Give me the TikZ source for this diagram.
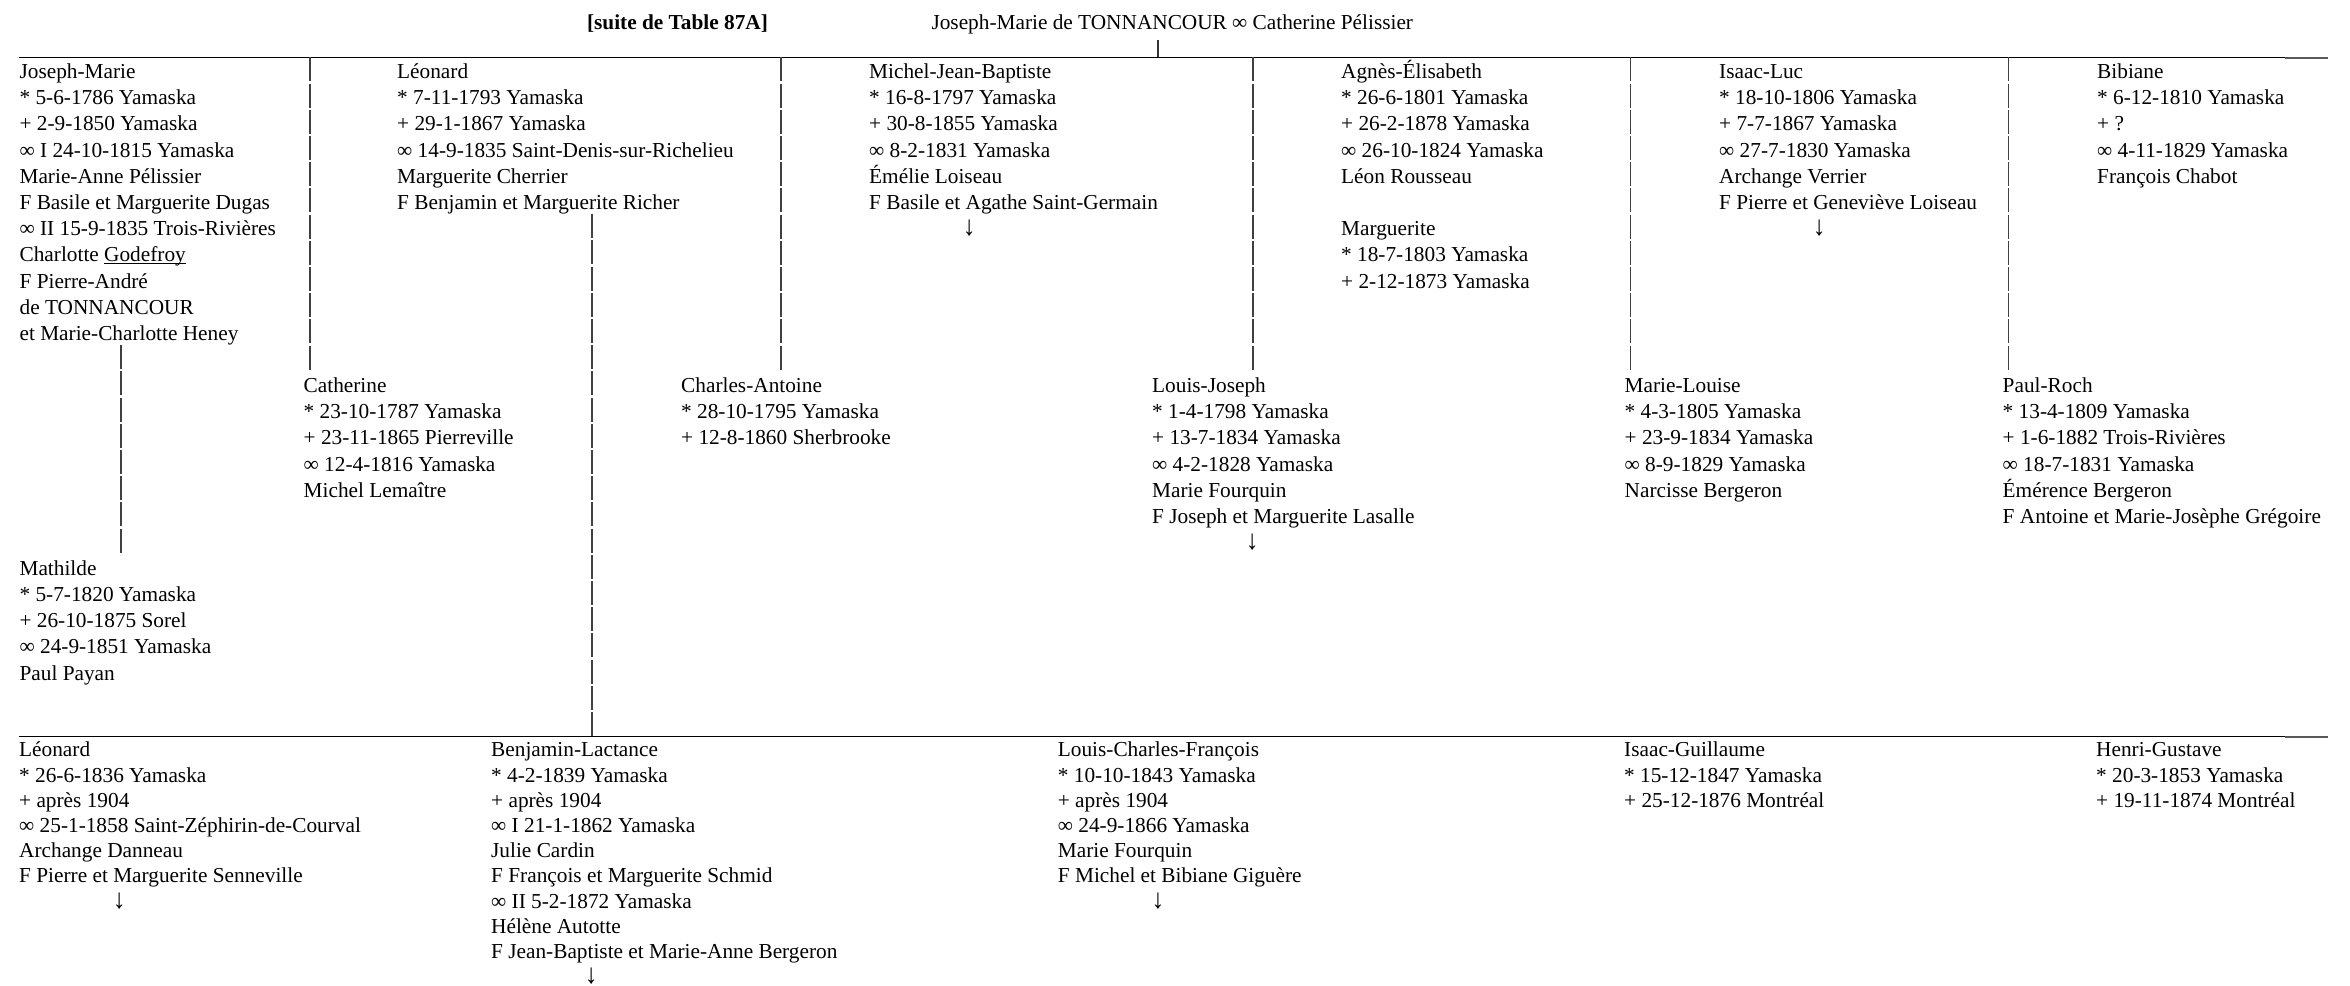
\documentclass[tikz,border=0pt]{standalone}
\usepackage{fontspec}
\setmainfont{Liberation Serif}

\newcommand{\downmark}{\hspace*{100pt}\makebox[0pt]{\scalebox{1.2}[1.3]{↓}}}
\newcommand{\lowline}[1]{\setbox0\hbox{#1}\rlap{\rule[-2.4pt]{\wd0}{1.1pt}}\box0}

\tikzset{
	person/.style={anchor=north west, inner sep=0pt, align=left, font=\fontsize{21.3}{26.2}\selectfont},
	laterperson/.style={person, font=\fontsize{21.3}{25.2}\selectfont},
	descent/.style={line width=1.6pt, black!75, dash pattern=on 24pt off 2.2pt},
	bar/.style={line width=1.3pt},
	barstub/.style={line width=1.8pt, black!65},
}

\begin{document}
\begin{tikzpicture}[x=1pt, y=-1pt]
	\useasboundingbox (0,0) rectangle (2350,985);
	
	% Header: previous table and the parents
	\node[anchor=base, font=\fontsize{21.3}{26.2}\selectfont\bfseries] (suite) at (677.5,29) {[suite de Table 87A]};
	\node[anchor=base west, font=\fontsize{21.3}{26.2}\selectfont] (parents) at (928,29) {Joseph-Marie de TONNANCOUR ∞ Catherine Pélissier};
	
	% The two bars
	\coordinate (topbar) at (0,57.3);
	\coordinate (lowbar) at (0,736.3);
	\draw[bar] (19,57.3) -- (2285,57.3);
	\draw[barstub] (2285,57.8) -- (2328,57.8);
	\draw[bar] (19,736.3) -- (2285,736.3);
	\draw[barstub] (2285,737.2) -- (2328,737.2);
	\coordinate (parentfoot) at (1158,40);
	\draw[line width=1.4pt, black!80] (parentfoot) -- (parentfoot |- topbar);
	
	% First row of children
	\node[person] (jm) at (19.4,60) {\strut Joseph-Marie\\
		* 5-6-1786 Yamaska\\
		+ 2-9-1850 Yamaska\\
		∞ I 24-10-1815 Yamaska\\
		Marie-Anne Pélissier\\
		F Basile et Marguerite Dugas\\
		∞ II 15-9-1835 Trois-Rivières\\
		Charlotte \lowline{Godefroy}\\
		F Pierre-André\\
		de TONNANCOUR\\
		et Marie-Charlotte Heney};
	\node[person] (leo) at (397,60) {\strut Léonard\\
		* 7-11-1793 Yamaska\\
		+ 29-1-1867 Yamaska\\
		∞ 14-9-1835 Saint-Denis-sur-Richelieu\\
		Marguerite Cherrier\\
		F Benjamin et Marguerite Richer};
	\node[person] (mjb) at (869,60) {\strut Michel-Jean-Baptiste\\
		* 16-8-1797 Yamaska\\
		+ 30-8-1855 Yamaska\\
		∞ 8-2-1831 Yamaska\\
		Émélie Loiseau\\
		F Basile et Agathe Saint-Germain\\
		\downmark};
	\node[person] (agnes) at (1341,60) {\strut Agnès-Élisabeth\\
		* 26-6-1801 Yamaska\\
		+ 26-2-1878 Yamaska\\
		∞ 26-10-1824 Yamaska\\
		Léon Rousseau};
	\node[person] (marg) at (1341,217.2) {\strut Marguerite\\
		* 18-7-1803 Yamaska\\
		+ 2-12-1873 Yamaska};
	\node[person] (isaac) at (1719,60) {\strut Isaac-Luc\\
		* 18-10-1806 Yamaska\\
		+ 7-7-1867 Yamaska\\
		∞ 27-7-1830 Yamaska\\
		Archange Verrier\\
		F Pierre et Geneviève Loiseau\\
		\downmark};
	\node[person] (bib) at (2097,60) {\strut Bibiane\\
		* 6-12-1810 Yamaska\\
		+ ?\\
		∞ 4-11-1829 Yamaska\\
		François Chabot};
	
	% Second row of children
	\node[person] (cath) at (303.5,374) {\strut Catherine\\
		* 23-10-1787 Yamaska\\
		+ 23-11-1865 Pierreville\\
		∞ 12-4-1816 Yamaska\\
		Michel Lemaître};
	\node[person] (charles) at (681,374) {\strut Charles-Antoine\\
		* 28-10-1795 Yamaska\\
		+ 12-8-1860 Sherbrooke};
	\node[person] (louis) at (1152,374) {\strut Louis-Joseph\\
		* 1-4-1798 Yamaska\\
		+ 13-7-1834 Yamaska\\
		∞ 4-2-1828 Yamaska\\
		Marie Fourquin\\
		F Joseph et Marguerite Lasalle\\
		\downmark};
	\node[person] (ml) at (1624.5,374) {\strut Marie-Louise\\
		* 4-3-1805 Yamaska\\
		+ 23-9-1834 Yamaska\\
		∞ 8-9-1829 Yamaska\\
		Narcisse Bergeron};
	\node[person] (paul) at (2002.5,374) {\strut Paul-Roch\\
		* 13-4-1809 Yamaska\\
		+ 1-6-1882 Trois-Rivières\\
		∞ 18-7-1831 Yamaska\\
		Émérence Bergeron\\
		F Antoine et Marie-Josèphe Grégoire};
	
	% Daughter of Joseph-Marie
	\node[person] (mathilde) at (19.4,556.7) {\strut Mathilde\\
		* 5-7-1820 Yamaska\\
		+ 26-10-1875 Sorel\\
		∞ 24-9-1851 Yamaska\\
		Paul Payan};
	
	% Children of Léonard
	\node[laterperson] (leonard) at (19,739.1) {\strut Léonard\\
		* 26-6-1836 Yamaska\\
		+ après 1904\\
		∞ 25-1-1858 Saint-Zéphirin-de-Courval\\
		Archange Danneau\\
		F Pierre et Marguerite Senneville\\
		\downmark};
	\node[laterperson] (benj) at (491,739.1) {\strut Benjamin-Lactance\\
		* 4-2-1839 Yamaska\\
		+ après 1904\\
		∞ I 21-1-1862 Yamaska\\
		Julie Cardin\\
		F François et Marguerite Schmid\\
		∞ II 5-2-1872 Yamaska\\
		Hélène Autotte\\
		F Jean-Baptiste et Marie-Anne Bergeron\\
		\downmark};
	\node[laterperson] (lcf) at (1057.7,739.1) {\strut Louis-Charles-François\\
		* 10-10-1843 Yamaska\\
		+ après 1904\\
		∞ 24-9-1866 Yamaska\\
		Marie Fourquin\\
		F Michel et Bibiane Giguère\\
		\downmark};
	\node[laterperson] (isaacg) at (1624,739.1) {\strut Isaac-Guillaume\\
		* 15-12-1847 Yamaska\\
		+ 25-12-1876 Montréal};
	\node[laterperson] (henri) at (2096,739.1) {\strut Henri-Gustave\\
		* 20-3-1853 Yamaska\\
		+ 19-11-1874 Montréal};
	
	% Descent lines from the top bar to the second row
	\foreach \x [count=\i] in {310,781,1253,1630.5,2008.5} {
		\coordinate (sep\i) at (\x,371.4);
		\draw[descent] (sep\i |- topbar) -- (sep\i);
	}
	
	% Descent of Joseph-Marie and of Léonard
	\coordinate (jmfoot) at (121,345.2);
	\coordinate (mathhead) at (121,554.8);
	\draw[descent] (jmfoot) -- (mathhead);
	\coordinate (leofoot) at (592,214.2);
	\draw[descent] (leofoot) -- (leofoot |- lowbar);
\end{tikzpicture}
\end{document}
